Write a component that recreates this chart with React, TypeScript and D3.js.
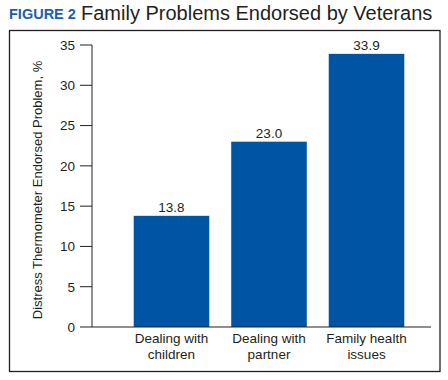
import React from "react";
import * as d3 from "d3";

const categories = ["Dealing with|children", "Dealing with|partner", "Family health|issues"];
const values = [13.8, 23.0, 33.9];
const yTicks = [0, 5, 10, 15, 20, 25, 30, 35];

export default function App() {
  const W = 448, H = 380;
  const x = d3.scaleBand<string>().domain(categories).range([122, 416]).paddingInner(0.225).paddingOuter(0.12);
  const y = d3.scaleLinear().domain([0, 35]).range([327, 45]);
  const font = "'Liberation Sans', Arial, Helvetica, sans-serif";
  return (
    <svg width={W} height={H} style={{ position: "absolute", left: 0, top: 0 }} fontFamily={font}>
      <rect x={0} y={0} width={W} height={H} fill="#fff" />
      <text x={9} y={19} fontSize={14.5} fontWeight="bold" fill="#1b5fae">FIGURE 2</text>
      <text x={81} y={20} fontSize={20} fill="#231f20">Family Problems Endorsed by Veterans</text>
      <rect x={9.5} y={30.5} width={430.5} height={341} fill="none" stroke="#231f20" strokeWidth={1.3} />
      {/* y axis */}
      <line x1={92} x2={92} y1={y(35)} y2={y(0)} stroke="#231f20" strokeWidth={1} />
      {yTicks.map((t) => (
        <g key={t}>
          <line x1={80} x2={92} y1={y(t)} y2={y(t)} stroke="#231f20" strokeWidth={1} />
          <text x={75} y={y(t)} dy="0.36em" textAnchor="end" fontSize={13.5} fill="#231f20">{t}</text>
        </g>
      ))}
      <text transform={`translate(42,${(y(0) + y(35)) / 2 + 4}) rotate(-90)`} textAnchor="middle" fontSize={13} fill="#231f20">
        Distress Thermometer Endorsed Problem, %
      </text>
      {categories.map((c, i) => (
        <g key={c}>
          <rect x={x(c)!} y={y(values[i])} width={x.bandwidth()} height={y(0) - y(values[i])} fill="#0054a4" />
          <text x={x(c)! + x.bandwidth() / 2} y={y(values[i]) - 4} textAnchor="middle" fontSize={13.5} fill="#231f20">
            {values[i].toFixed(1)}
          </text>
          {c.split("|").map((line, j) => (
            <text key={j} x={x(c)! + x.bandwidth() / 2} y={343 + j * 16} textAnchor="middle" fontSize={13.5} fill="#231f20">
              {line}
            </text>
          ))}
        </g>
      ))}
      <line x1={92} x2={431} y1={y(0)} y2={y(0)} stroke="#231f20" strokeWidth={1} />
    </svg>
  );
}
